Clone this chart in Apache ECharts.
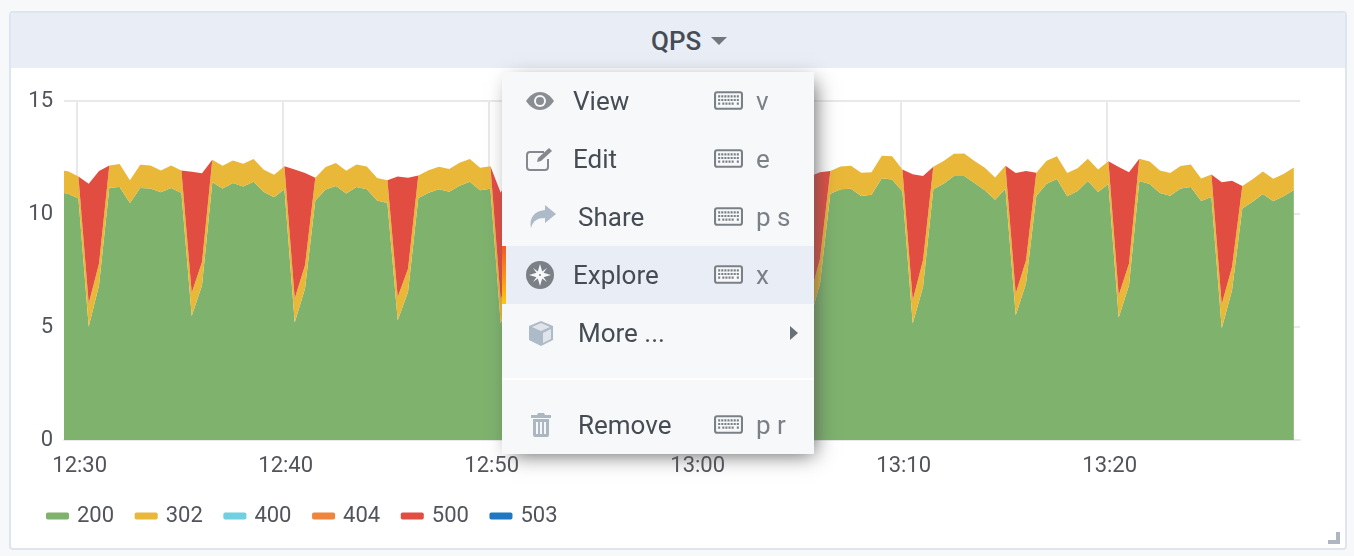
<!DOCTYPE html>
<html>
<head>
<meta charset="utf-8">
<title>QPS</title>
<script src="https://cdn.jsdelivr.net/npm/echarts@6/dist/echarts.min.js"></script>
<style>
html,body{margin:0;padding:0;width:1354px;height:556px;overflow:hidden;background:#f7f8fa;font-family:Roboto,sans-serif;color:#464c54}
.panel{position:absolute;left:9px;top:11px;width:1334px;height:535px;background:#fff;border:2px solid #dfe5ef;border-radius:4px}
.head{position:absolute;left:11px;top:13px;width:1334px;height:55px;background:#e9edf5;border-radius:3px 3px 0 0}
.title{position:absolute;left:651px;top:25px;font-size:26px;font-weight:500;line-height:32px;color:#464c54}
.caret{position:absolute;left:711px;top:37px;width:0;height:0;border-left:8px solid transparent;border-right:8px solid transparent;border-top:8px solid #72767d}
#chart{position:absolute;left:0;top:0;width:1354px;height:556px}
.grip{position:absolute;left:1328px;top:532px;width:8px;height:8px;border-right:4px solid #aeb6c2;border-bottom:4px solid #aeb6c2}
.menu{position:absolute;left:502px;top:72px;width:312px;height:382px;background:#f7f8fa;box-shadow:5px 5px 20px -5px #555}
.row{position:absolute;left:0;width:312px;height:58px;line-height:58px;font-size:26px}
.row.on{background:#e9edf5}
.row.on:before{content:"";position:absolute;left:0;top:0;width:4px;height:58px;background:linear-gradient(#f05a28,#fbca0a)}
.row .txt{position:absolute;top:0}
.row .key{position:absolute;left:254px;top:0;color:#7b8087}
.row svg{position:absolute}
.arrow{position:absolute;left:288px;top:22px;width:0;height:0;border-top:7px solid transparent;border-bottom:7px solid transparent;border-left:8px solid #6b6f76}
.sep{position:absolute;left:0;top:306px;width:312px;height:2px;background:#fff}
</style>
</head>
<body>
<div class="panel"></div>
<div class="head"></div>
<div class="title">QPS</div>
<div class="caret"></div>
<div id="chart"></div>
<div class="grip"></div>

<svg width="0" height="0" style="position:absolute">
  <symbol id="kb" viewBox="0 0 28 18">
    <rect x="1" y="1" width="26" height="16" rx="2" fill="#f7f8fa" stroke="#7b8087" stroke-width="2"/>
    <path d="M4 5h20M4 8.500h20M4 12h2M8 12h12M22 12h2" stroke="#7b8087" stroke-width="2" stroke-dasharray="2 1" fill="none"/>
  </symbol>
</svg>

<div class="menu">
  <div class="row" style="top:0">
    <svg style="left:24px;top:20px" width="28" height="18" viewBox="0 0 28 18">
      <path d="M0 9C4 3 9 0 14 0s10 3 14 9c-4 6-9 9-14 9S4 15 0 9z" fill="#8a8d92"/>
      <circle cx="14" cy="9" r="6" fill="#f7f8fa"/><circle cx="14" cy="9" r="4" fill="#8a8d92"/>
    </svg>
    <span class="txt" style="left:71px">View</span>
    <svg style="left:212px;top:19px" width="29" height="19"><use href="#kb"/></svg>
    <span class="key">v</span>
  </div>
  <div class="row" style="top:58px">
    <svg style="left:24px;top:17px" width="28" height="24" viewBox="0 0 28 24">
      <path d="M18 5H4a3 3 0 0 0-3 3v12a3 3 0 0 0 3 3h15a3 3 0 0 0 3-3V12" fill="none" stroke="#85888e" stroke-width="2"/>
      <path d="M11 15l1-4L23 1l3 3-11 10z" fill="#85888e"/>
    </svg>
    <span class="txt" style="left:71px">Edit</span>
    <svg style="left:212px;top:19px" width="29" height="19"><use href="#kb"/></svg>
    <span class="key">e</span>
  </div>
  <div class="row" style="top:116px">
    <svg style="left:27px;top:17px" width="27" height="24" viewBox="0 0 27 24">
      <path d="M16 0l11 9-11 9v-5C8 13 4 16 2 23 0 13 5 6 16 5z" fill="#adbac7"/>
    </svg>
    <span class="txt" style="left:76px">Share</span>
    <svg style="left:212px;top:19px" width="29" height="19"><use href="#kb"/></svg>
    <span class="key">p s</span>
  </div>
  <div class="row on" style="top:174px">
    <svg style="left:24px;top:15px" width="28" height="28" viewBox="0 0 28 28">
      <circle cx="14" cy="14" r="14" fill="#7b7f86"/>
      <path d="M14 3l2.500 8.500L25 14l-8.500 2.500L14 25l-2.500-8.500L3 14l8.500-2.500z" fill="#f7f8fa"/>
      <path d="M7 7l7 5 7-5-5 7 5 7-7-5-7 5 5-7z" fill="#f7f8fa"/>
      <circle cx="14" cy="14" r="1" fill="#7b7f86"/>
    </svg>
    <span class="txt" style="left:71px">Explore</span>
    <svg style="left:212px;top:19px" width="29" height="19"><use href="#kb"/></svg>
    <span class="key">x</span>
  </div>
  <div class="row" style="top:232px">
    <svg style="left:27px;top:17px" width="24" height="25" viewBox="0 0 24 25">
      <path d="M12 0l12 5v14l-12 6-12-6V5z" fill="#adbac7"/>
      <path d="M12 2l9 4-9 4-9-4zM14 12l8-4v10l-8 4z" fill="#f7f8fa" opacity=".7"/>
    </svg>
    <span class="txt" style="left:76px">More ...</span>
    <div class="arrow"></div>
  </div>
  <div class="sep"></div>
  <div class="row" style="top:324px">
    <svg style="left:29px;top:17px" width="20" height="24" viewBox="0 0 20 24">
      <path d="M7 0h6l1 2h6v3H0V2h6zM2 6h16v16a2 2 0 0 1-2 2H4a2 2 0 0 1-2-2z" fill="#adb7c2"/>
      <path d="M6 9v12M10 9v12M14 9v12" stroke="#f7f8fa" stroke-width="2"/>
    </svg>
    <span class="txt" style="left:76px">Remove</span>
    <svg style="left:212px;top:19px" width="29" height="19"><use href="#kb"/></svg>
    <span class="key">p r</span>
  </div>
</div>

<script>
var legendNames = ['200', '302', '400', '404', '500', '503']
var colors = ['#7eb26d', '#eab839', '#6ed0e0', '#ef843c', '#e24d42', '#1f78c1']

// one value every 30s. 12:50-13:05 sits behind the menu so that bit is a guess
var status200 = [
10.97,10.90,10.69,5.01,6.85,11.16,11.19,10.49,11.15,11.13,10.96,11.15,10.93,5.49,6.85,
11.41,11.13,11.37,11.22,11.43,10.97,10.74,11.09,5.20,6.70,10.60,11.08,11.24,10.91,11.19,
11.10,10.60,10.49,5.30,6.55,10.71,10.94,11.09,10.99,11.25,11.43,11.05,11.12,5.15,6.80,
10.70,11.05,11.20,10.95,11.30,11.10,10.75,11.00,5.25,6.75,11.05,11.30,11.15,10.85,11.20,
11.35,10.90,10.80,5.20,6.90,10.85,11.15,11.30,11.00,10.80,11.25,11.10,11.05,5.30,6.92,
10.90,11.10,11.12,10.80,10.85,11.58,11.53,11.00,5.15,6.77,11.09,11.34,11.68,11.68,11.37,
11.05,10.63,11.12,5.52,6.92,10.80,11.34,11.55,10.78,11.02,11.46,10.97,11.33,5.42,6.85,
11.46,11.33,10.93,10.81,11.13,11.19,10.57,10.75,4.93,6.63,10.24,10.54,10.88,10.56,10.78,
11.06
]
var status302 = [
0.99,0.99,0.97,1.03,0.96,0.99,1.02,1.00,1.03,1.02,0.97,1.00,0.99,1.02,1.03,
0.99,1.00,1.00,1.00,1.00,0.99,1.00,1.02,1.06,1.03,1.00,1.00,1.02,1.00,1.00,
1.00,0.99,1.00,1.03,1.03,0.99,1.00,1.00,1.00,1.02,1.00,1.00,0.99,1.03,1.00,
1.00,1.00,0.99,1.00,1.00,1.02,1.00,0.99,1.03,1.00,1.00,1.00,1.00,0.99,1.00,
1.00,1.02,1.00,1.03,1.00,1.00,0.99,1.00,1.00,1.00,1.02,1.00,1.00,1.03,1.10,
1.00,1.00,1.02,1.02,1.00,1.00,1.02,0.97,1.03,1.18,1.00,1.00,0.99,1.00,0.97,
1.00,0.99,1.02,0.96,1.03,1.02,1.02,1.00,1.03,1.00,0.99,1.00,1.00,0.99,0.96,
0.99,0.99,0.99,1.00,0.99,1.00,1.00,1.00,1.08,1.03,1.00,1.00,1.00,1.00,0.99,
1.00
]
var status500 = [
0,0,0,5.30,4.09,0,0,0,0,0,0,0,0,5.36,3.92,
0,0,0,0,0,0,0,0,5.71,4.08,0,0,0,0,0,
0,0,0,5.33,4.02,0,0,0,0,0,0,0,0,4.76,4.10,
0,0,0,0,0,0,0,0,5.40,4.05,0,0,0,0,0,
0,0,0,5.50,3.95,0,0,0,0,0,0,0,0,5.33,3.83,
0,0,0,0,0,0,0,0,5.58,3.73,0,0,0,0,0,
0,0,0,5.33,3.95,0,0,0,0,0,0,0,0,5.67,4.04,
0,0,0,0,0,0,0,0,5.39,3.81,0,0,0,0,0,
0
]
var status400 = []
var status404 = []
var status503 = []

var firstPoint = new Date(2020, 5, 1, 12, 29, 5).getTime()
var times = []
for (var i = 0; i < status200.length; i++) {
	times.push(firstPoint + i * 30000)
}
var rangeStart = new Date(2020, 5, 1, 12, 29, 23).getTime()
var rangeEnd = new Date(2020, 5, 1, 13, 29, 23).getTime()

function pairs(values) {
	return values.map(function(v, i) {
		return [times[i], v]
	})
}

function area(index, values) {
	return {
		name: legendNames[index],
		type: 'line',
		stack: 'qps',
		data: pairs(values),
		symbol: 'none',
		showSymbol: false,
		color: colors[index],
		lineStyle: { width: 0, color: colors[index] },
		itemStyle: { color: colors[index] },
		areaStyle: { color: colors[index], opacity: 1 }
	}
}

var chart = echarts.init(document.getElementById('chart'))
chart.setOption({
	animation: false,
	grid: { left: 64, top: 101, width: 1236, height: 339 },
	legend: {
		left: 41,
		top: 500,
		icon: 'roundRect',
		itemWidth: 23,
		itemHeight: 7,
		itemGap: 20.6,
		data: legendNames,
		textStyle: { fontFamily: 'Roboto', fontSize: 22, color: '#52545c', padding: [0, 0, 0, 3] }
	},
	xAxis: {
		type: 'time',
		min: rangeStart,
		max: rangeEnd,
		splitNumber: 5,
		axisLine: { lineStyle: { color: '#e9e9ec', width: 2 } },
		axisTick: { show: false },
		splitLine: { show: true, showMinLine: false, showMaxLine: false, lineStyle: { color: '#e9e9ec', width: 2 } },
		axisLabel: {
			formatter: '{HH}:{mm}',
			showMinLabel: false,
			showMaxLabel: false,
			hideOverlap: false,
			margin: 15,
			padding: [0, 0, 0, 6],
			fontFamily: 'Roboto',
			fontSize: 22,
			color: '#52545c'
		}
	},
	yAxis: {
		type: 'value',
		min: 0,
		max: 15,
		interval: 5,
		axisLine: { show: false },
		axisTick: { show: false },
		splitLine: { show: true, lineStyle: { color: '#e9e9ec', width: 2 } },
		axisLabel: { margin: 11, fontFamily: 'Roboto', fontSize: 22, color: '#52545c' }
	},
	series: [
		area(0, status200),
		area(1, status302),
		area(2, status400),
		area(3, status404),
		area(4, status500),
		area(5, status503)
	]
})
</script>
</body>
</html>
